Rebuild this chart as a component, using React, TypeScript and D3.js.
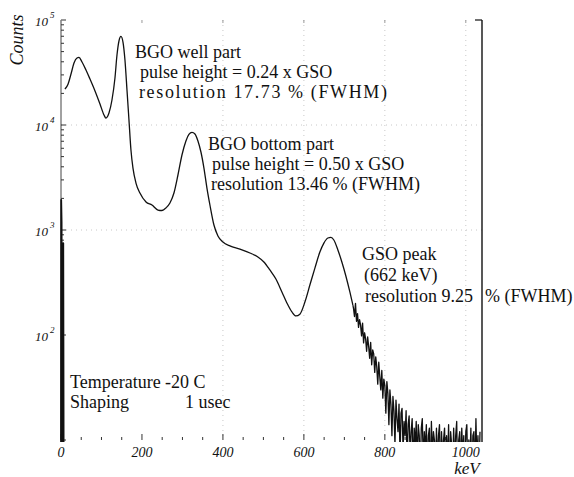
import React from "react";
import * as d3 from "d3";

const W = 574;
const H = 477;

// Main spectrum (peak region), energy in keV and counts per channel
const spectrumKeV = [9.9, 17.3, 24.7, 32.1, 39.5, 44.4, 51.9, 61.7, 71.6, 84, 96.3, 106.2, 111, 118.5, 125.9, 133.3, 138.3, 143.2, 148.1, 153.1, 158, 163, 167.9, 172.8, 177.8, 185.2, 195, 210, 224.7, 239.5, 249.4, 259.3, 269.1, 279, 288.9, 298.8, 308.6, 316, 323.5, 330.9, 338.3, 345.7, 353.1, 360.5, 367.9, 377.8, 387.7, 400, 417.3, 442, 466.7, 486.4, 501.2, 516, 530.9, 545.7, 558, 570.4, 580.2, 590.1, 602.5, 614.8, 627.2, 639.5, 649.4, 659.3, 666.7, 674, 684, 693.8, 703.7, 713.6, 721];
const spectrumCounts = [22000, 24500, 30600, 38900, 43400, 44000, 39800, 33400, 27400, 21100, 15850, 12450, 11650, 13000, 17300, 28050, 46400, 63100, 69700, 61700, 41600, 21550, 11150, 5780, 3890, 2800, 2250, 1850, 1730, 1550, 1533, 1622, 1808, 2250, 3340, 5180, 7050, 8130, 8490, 8210, 7050, 5530, 3890, 2510, 1730, 1115, 877, 769, 705, 659, 604, 553, 496, 416, 341, 257, 202, 166, 152, 158, 206, 299, 434, 617, 751, 839, 849, 803, 645, 496, 365, 257, 193];

// Noisy high-energy tail, channels every 2.5 keV starting at 722.5 keV
const tailStartKeV = 722.5;
const tailStepKeV = 2.5;
const tailCounts = [
  180, 150, 200, 135, 160, 118, 140, 125, 98, 130, 84, 105, 92, 70, 96, 78, 60, 85, 52, 72, 66, 44, 62, 50, 34, 55, 40, 30, 46, 25, 38, 33,
  18, 36, 28, 14, 30, 22, 11, 26, 19, 9, 24, 16, 12, 22, 7, 18, 20, 8, 15, 11, 19, 6, 14, 17, 7, 12, 16, 5, 13, 9, 15, 6,
  14, 11, 5, 13, 16, 6, 12, 8, 14, 5, 11, 13, 4, 15, 7, 12, 10, 5, 13, 6, 11, 14, 4, 12, 7, 10, 13, 5, 11, 6, 14, 4,
  12, 9, 5, 13, 6, 11, 15, 4, 10, 12, 5, 13, 7, 11, 4, 12, 14, 5, 10, 6, 13, 4, 11, 12, 5, 16, 6, 11, 4, 12,
];

// Low-channel (threshold) spikes near 0 keV
const lowKeV = [0, 0.5, 1.5, 2.5, 4.5, 5.6, 6.6];
const lowCounts = [5, 1930, 1200, 5, 5, 750, 5];

const xTicksMajor = [0, 200, 400, 600, 800, 1000];
const xTickLabels = ["0", "200", "400", "600", "800", "1000"];
const yDecades = [100, 1000, 10000, 100000];
const yDecadeExponents = ["2", "3", "4", "5"];

const serif = "'Liberation Serif', 'Times New Roman', 'DejaVu Serif', serif";

export default function App() {
  const x = d3.scaleLinear().domain([0, 1040]).range([61, 482]);
  const y = d3.scaleLog().domain([10, 100000]).range([440, 20]);
  const yc = (c: number) => y(Math.max(c, 1));

  const mainPts: [number, number][] = spectrumKeV.map((k, i) => [k, spectrumCounts[i]]);
  const tailPts: [number, number][] = [
    mainPts[mainPts.length - 1],
    ...tailCounts.map((c, i) => [tailStartKeV + i * tailStepKeV, c] as [number, number]),
  ];
  const lowPts: [number, number][] = lowKeV.map((k, i) => [k, lowCounts[i]]);

  const smooth = d3
    .line<[number, number]>()
    .x((d) => x(d[0]))
    .y((d) => yc(d[1]))
    .curve(d3.curveMonotoneX);
  const straight = d3
    .line<[number, number]>()
    .x((d) => x(d[0]))
    .y((d) => yc(d[1]));

  const x0 = x(0);
  const x1 = x.range()[1];
  const yTop = y.range()[1];
  const yBot = y.range()[0];

  const minorY: number[] = [];
  [10, 100, 1000, 10000].forEach((d) => {
    for (let m = 2; m <= 9; m++) minorY.push(d * m);
  });
  const minorX = d3.range(50, 1001, 50).filter((v) => v % 200 !== 0);

  return (
    <svg
      width={W}
      height={H}
      style={{ position: "absolute", left: 0, top: 0, display: "block", background: "#fff" }}
    >
      <defs>
        <clipPath id="plotClip">
          <rect x={x0 - 2} y={yTop} width={x1 - x0 + 2} height={yBot - yTop + 2} />
        </clipPath>
      </defs>
      <rect x={0} y={0} width={W} height={H} fill="#fff" />

      {/* faint dotted grid remnants */}
      <g stroke="#c8c8c8" strokeWidth={1} strokeDasharray="1,4" fill="none">
        {[400, 600, 800, 1000].map((v) => (
          <line key={"gx" + v} x1={x(v)} x2={x(v)} y1={yTop} y2={yBot} />
        ))}
        {[1000, 10000].map((v) => (
          <line key={"gy" + v} x1={x0} x2={x1} y1={y(v)} y2={y(v)} />
        ))}
      </g>

      {/* axes */}
      <line x1={x0} x2={x0} y1={yTop} y2={yBot} stroke="#444" strokeWidth={1} />
      <line x1={x1} x2={x1} y1={yTop} y2={yBot + 2} stroke="#111" strokeWidth={1.4} />
      <line x1={x1 - 7} x2={x1} y1={yTop} y2={yTop} stroke="#111" strokeWidth={1.2} />

      {/* y ticks */}
      <g stroke="#333" strokeWidth={1}>
        {[10, ...yDecades].map((v) => (
          <line key={"yM" + v} x1={x0} x2={x0 + 5} y1={y(v)} y2={y(v)} />
        ))}
        {minorY.map((v) => (
          <line key={"ym" + v} x1={x0} x2={x0 + 3} y1={y(v)} y2={y(v)} />
        ))}
      </g>

      {/* x ticks */}
      <g stroke="#333" strokeWidth={1}>
        {xTicksMajor.map((v) => (
          <line key={"xM" + v} x1={x(v)} x2={x(v)} y1={yBot} y2={yBot - 6} />
        ))}
        {minorX.map((v) => (
          <line key={"xm" + v} x1={x(v)} x2={x(v)} y1={yBot} y2={yBot - 3} />
        ))}
        {xTicksMajor.map((v) => (
          <line key={"xt" + v} x1={x(v)} x2={x(v)} y1={yTop} y2={yTop + 3} stroke="#999" />
        ))}
      </g>

      {/* data */}
      <g clipPath="url(#plotClip)" fill="none" stroke="#111" strokeLinejoin="round">
        <path d={straight(lowPts) || ""} strokeWidth={1.8} />
        <path d={smooth(mainPts) || ""} strokeWidth={1.3} />
        <path d={straight(tailPts) || ""} strokeWidth={1.3} />
      </g>

      {/* y tick labels */}
      <g fontFamily={serif} fontStyle="italic" fill="#111">
        {yDecades.map((v, i) => (
          <g key={"yl" + v}>
            <text x={35} y={y(v) + 6} fontSize={13}>
              10
            </text>
            <text x={50} y={y(v) - 2} fontSize={9}>
              {yDecadeExponents[i]}
            </text>
          </g>
        ))}
      </g>

      {/* x tick labels */}
      <g fontFamily={serif} fontStyle="italic" fill="#111" fontSize={14} textAnchor="middle">
        {xTicksMajor.map((v, i) => (
          <text key={"xl" + v} x={x(v)} y={457}>
            {xTickLabels[i]}
          </text>
        ))}
      </g>

      {/* axis titles */}
      <text
        transform="translate(23,40) rotate(-90)"
        fontFamily={serif}
        fontStyle="italic"
        fontSize={18}
        textAnchor="middle"
        fill="#111"
      >
        Counts
      </text>
      <text x={467} y={474} fontFamily={serif} fontStyle="italic" fontSize={17} textAnchor="middle" fill="#111">
        keV
      </text>

      {/* annotations */}
      <g fontFamily={serif} fontSize={18} fill="#111" style={{ whiteSpace: "pre" }}>
        <text x={135} y={58}>BGO well part</text>
        <text x={140} y={78}>pulse height = 0.24 x GSO</text>
        <text x={139} y={98} textLength={248} lengthAdjust="spacing">
          resolution 17.73 % (FWHM)
        </text>

        <text x={208} y={150}>BGO bottom part</text>
        <text x={212} y={170}>pulse height = 0.50 x GSO</text>
        <text x={211} y={190}>resolution 13.46 % (FWHM)</text>

        <text x={362} y={260}>GSO peak</text>
        <text x={364} y={281}>(662 keV)</text>
        <text x={365} y={302}>resolution 9.25</text>
        <text x={485} y={302}>% (FWHM)</text>

        <text x={70} y={388}>Temperature</text>
        <text x={165} y={388}>-20 C</text>
        <text x={70} y={408}>Shaping</text>
        <text x={185} y={408}>1 usec</text>
      </g>
    </svg>
  );
}
